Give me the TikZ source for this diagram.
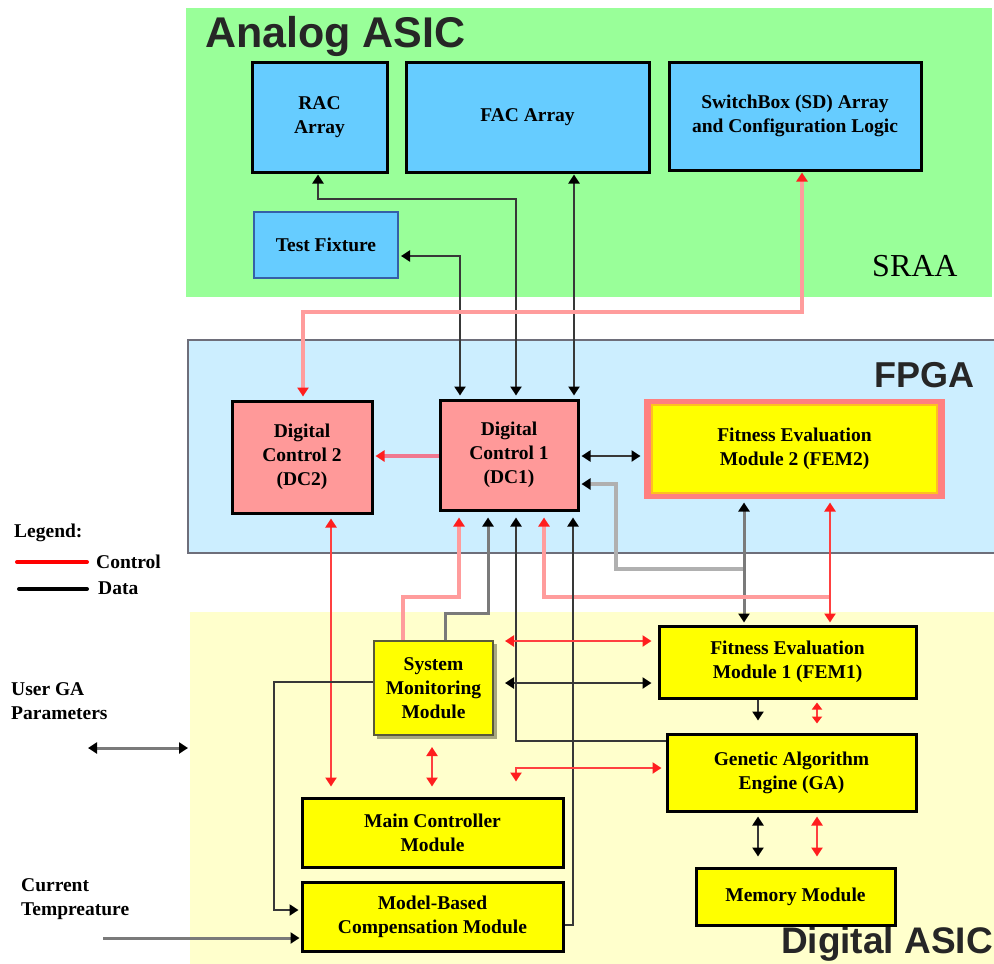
\documentclass[tikz,border=0pt]{standalone}
\usepackage{fontspec}
\setmainfont{Liberation Serif}
\newfontfamily\headfont{Liberation Sans}
\usetikzlibrary{arrows.meta}

\definecolor{analoggreen}{HTML}{99FF99}
\definecolor{fpgablue}{HTML}{CCEEFF}
\definecolor{asicyellow}{HTML}{FFFFCC}
\definecolor{cellblue}{HTML}{66CCFF}
\definecolor{dcpink}{HTML}{FF9999}
\definecolor{modyellow}{HTML}{FFFF00}
\definecolor{femrim}{HTML}{FF8080}
\definecolor{femband}{HTML}{FFC020}
\definecolor{dataline}{HTML}{383838}
\definecolor{datagrey}{HTML}{7A7A7A}
\definecolor{datapale}{HTML}{B0B0B0}
\definecolor{ctrlline}{HTML}{FF4040}
\definecolor{ctrlpale}{HTML}{FF9C9C}
\definecolor{linkpink}{HTML}{F07890}
\definecolor{tipred}{HTML}{FF1E1E}
\definecolor{headgrey}{HTML}{262626}
\definecolor{fpgaedge}{HTML}{6E6E7A}
\definecolor{fixedge}{HTML}{3560A8}
\definecolor{smmedge}{HTML}{5A5A3A}
\definecolor{smmshade}{HTML}{A8A880}

\tikzset{
  dtip/.tip={Triangle[width=11pt,length=9pt,color=black]},
  rtip/.tip={Triangle[width=11pt,length=9pt,color=tipred]},
  rtipsmall/.tip={Triangle[width=10pt,length=7pt,color=tipred]},
}

\begin{document}
\begin{tikzpicture}[x=1pt,y=-1pt,
  box/.style={rectangle, inner sep=0pt, align=center,
    font=\fontsize{19.5}{24}\selectfont\bfseries, line width=3pt, draw=black},
  cell/.style={box, fill=cellblue},
  dcbox/.style={box, fill=dcpink},
  modbox/.style={box, fill=modyellow},
  data/.style={draw=dataline, line width=2.2pt},
  datag/.style={draw=datagrey, line width=3pt},
  datap/.style={draw=datapale, line width=4pt},
  ctrl/.style={draw=ctrlline, line width=2.2pt},
  ctrlp/.style={draw=ctrlpale, line width=3.2pt},
  lbl/.style={inner sep=0pt, font=\fontsize{19.5}{24}\selectfont\bfseries},
  head/.style={inner sep=0pt, text=headgrey, font=\headfont\bfseries},
]
\useasboundingbox (0,0) rectangle (994,964);

% --- regions ---
\fill[analoggreen] (186,8) rectangle (992,297);
\fill[fpgablue] (188,340) rectangle (994,553);
\draw[fpgaedge, line width=2pt] (994,340) -- (188,340) -- (188,553) -- (994,553);
\fill[asicyellow] (190,612) rectangle (994,964);

\node[head, anchor=base west, font=\headfont\bfseries\fontsize{43}{43}\selectfont] (analogtitle) at (205,47) {Analog ASIC};
\node[head, anchor=base east, font=\headfont\bfseries\fontsize{36}{36}\selectfont] (fpgatitle) at (975,387) {FPGA};
\node[head, anchor=base east, font=\headfont\bfseries\fontsize{37}{37}\selectfont] (asictitle) at (993,953) {Digital ASIC};
\node[inner sep=0pt, anchor=base west, font=\fontsize{32}{32}\selectfont] (sraa) at (872,276) {SRAA};

% --- Analog ASIC cells ---
\node[cell, minimum width=135pt, minimum height=110pt] (rac) at (319.5,117) {RAC\\Array};
\node[cell, minimum width=243pt, minimum height=110pt] (fac) at (527.5,117) {FAC Array};
\node[cell, minimum width=252pt, minimum height=108pt] (sbx) at (795,116) {SwitchBox (SD) Array\\and Configuration Logic};
\node[box, fill=cellblue, draw=fixedge, line width=2pt, minimum width=144pt, minimum height=66pt] (tfx) at (326,245) {Test Fixture};

% --- FPGA blocks ---
\node[dcbox, minimum width=140pt, minimum height=112pt] (dc2) at (302,457) {Digital\\Control 2\\(DC2)};
\node[dcbox, minimum width=138pt, minimum height=110pt] (dc1) at (509,455) {Digital\\Control 1\\(DC1)};
\node[box, draw=none, fill=femrim, minimum width=301pt, minimum height=100pt,
  path picture={\draw[fill=modyellow, draw=femband, line width=2.5pt]
    ([shift={(8pt,-6pt)}]path picture bounding box.north west) rectangle
    ([shift={(-8pt,6pt)}]path picture bounding box.south east);}]
  (fem2) at (794.5,449) {Fitness Evaluation\\Module 2 (FEM2)};

% --- Digital ASIC modules ---
\fill[smmshade] (377,644) rectangle (497,739);
\node[modbox, draw=smmedge, line width=2pt, minimum width=119pt, minimum height=94pt] (smm) at (433.5,688) {System\\Monitoring\\Module};
\node[modbox, minimum width=257pt, minimum height=72pt] (fem1) at (787.5,662) {Fitness Evaluation\\Module 1 (FEM1)};
\node[modbox, minimum width=249pt, minimum height=77pt] (ga) at (791.5,772.5) {Genetic Algorithm\\Engine (GA)};
\node[modbox, minimum width=261pt, minimum height=69pt] (mcm) at (432.5,832.5) {Main Controller\\Module};
\node[modbox, minimum width=261pt, minimum height=69pt] (mbc) at (432.5,916.5) {Model-Based\\Compensation Module};
\node[modbox, minimum width=199pt, minimum height=57pt] (mem) at (795.5,896.5) {Memory Module};

% --- external labels and legend ---
\node[lbl, anchor=base west] (legendhead) at (14,537) {Legend:};
\coordinate (lgc1) at (17,562); \coordinate (lgc2) at (87,562);
\coordinate (lgd1) at (19,589); \coordinate (lgd2) at (87,589);
\draw[red, line width=4pt, line cap=round] (lgc1) -- (lgc2);
\draw[black, line width=4pt, line cap=round] (lgd1) -- (lgd2);
\node[lbl, anchor=base west] (lgctrl) at (96,568) {Control};
\node[lbl, anchor=base west] (lgdata) at (98,594) {Data};
\node[lbl, anchor=base west] (usergaa) at (11,695) {User GA};
\node[lbl, anchor=base west] (usergab) at (11,719) {Parameters};
\node[lbl, anchor=base west] (curtempa) at (21,891) {Current};
\node[lbl, anchor=base west] (curtempb) at (21,915) {Tempreature};

% --- Analog ASIC <-> FPGA links ---
\draw[data, {dtip}-{dtip}, shorten <=3pt, shorten >=1pt] (dc1.north -| 516,0) |- (318,199) -- (rac.south -| 318,0);
\draw[data, {dtip}-{dtip}, shorten <=1pt, shorten >=3pt] (fac.south -| 574,0) -- (dc1.north -| 574,0);
\draw[data, {dtip}-{dtip}, shorten <=3pt, shorten >=2pt] (dc1.north -| 460,0) |- (tfx.east |- 0,256);
\draw[ctrlp, {rtip}-{rtip}, shorten <=1pt, shorten >=3pt] (sbx.south -| 802,0) |- (303,312) -- (dc2.north -| 303,0);

% --- FPGA internal links ---
\draw[linkpink, line width=3.2pt, -{rtip}, shorten >=2pt] (dc1.west |- 0,456) -- (dc2.east |- 0,456);
\draw[data, {dtip}-{dtip}, shorten <=2pt, shorten >=2pt] (dc1.east |- 0,456) -- (fem2.west |- 0,456);
\coordinate (femjoin) at (744,569);
\draw[datap, -{dtip}, shorten >=2pt] (femjoin) -| (616,484) -- (dc1.east |- 0,484);
\draw[datag, {dtip}-{dtip}, shorten <=2pt, shorten >=2pt] (fem2.south -| 744,0) -- (fem1.north -| 744,0);
\coordinate (ctrljoin) at (830,597);
\draw[ctrlp, -{rtip}, shorten >=6pt] (ctrljoin) -| (dc1.south -| 544,0);
\draw[ctrl, {rtip}-{rtip}, shorten <=2pt, shorten >=2pt] (fem2.south -| 830,0) -- (fem1.north -| 830,0);

% --- FPGA <-> Digital ASIC links ---
\draw[ctrlp, -{rtip}, shorten >=6pt] (smm.north -| 403,0) |- (459,597) -- (dc1.south -| 459,0);
\draw[datag, -{dtip}, shorten >=6pt] (smm.north -| 445,0) |- (488,613) -- (dc1.south -| 488,0);
\draw[data, -{dtip}, shorten >=6pt] (ga.west |- 0,741) -| (dc1.south -| 516,0);
\draw[data, -{dtip}, shorten >=6pt] (mbc.east |- 0,925) -| (dc1.south -| 573,0);
\draw[ctrl, {rtip}-{rtip}, shorten <=4pt, shorten >=10pt] (dc2.south -| 331,0) -- (mcm.north -| 331,0);

% --- Digital ASIC internal links ---
\draw[ctrl, {rtip}-{rtip}, shorten <=11pt, shorten >=6pt] (smm.east |- 0,641) -- (fem1.west |- 0,641);
\draw[data, {dtip}-{dtip}, shorten <=11pt, shorten >=6pt] (smm.east |- 0,683) -- (fem1.west |- 0,683);
\draw[ctrl, {rtip}-{rtip}, shorten <=11pt, shorten >=10pt] (smm.south -| 432,0) -- (mcm.north -| 432,0);
\draw[ctrl, {rtip}-{rtip}, shorten <=4pt, shorten >=15pt] (ga.west |- 0,768) -| (mcm.north -| 516,0);
\draw[data, -{dtip}, shorten >=2pt] (smm.west |- 0,682) -| (274,910) -- (mbc.west |- 0,910);
\draw[data, -{dtip}, shorten >=12pt] (fem1.south -| 758,0) -- (ga.north -| 758,0);
\draw[ctrl, {rtipsmall}-{rtipsmall}, shorten <=3pt, shorten >=9pt] (fem1.south -| 817,0) -- (ga.north -| 817,0);
\draw[data, {dtip}-{dtip}, shorten <=4pt, shorten >=10pt] (ga.south -| 758,0) -- (mem.north -| 758,0);
\draw[ctrl, {rtip}-{rtip}, shorten <=4pt, shorten >=10pt] (ga.south -| 817,0) -- (mem.north -| 817,0);

% --- external inputs ---
\coordinate (userl) at (88,748); \coordinate (userr) at (188,748);
\draw[datag, {dtip}-{dtip}] (userl) -- (userr);
\coordinate (tempin) at (103,938);
\draw[datag, -{dtip}, shorten >=1pt] (tempin) -- (mbc.west |- 0,938);
\end{tikzpicture}
\end{document}
